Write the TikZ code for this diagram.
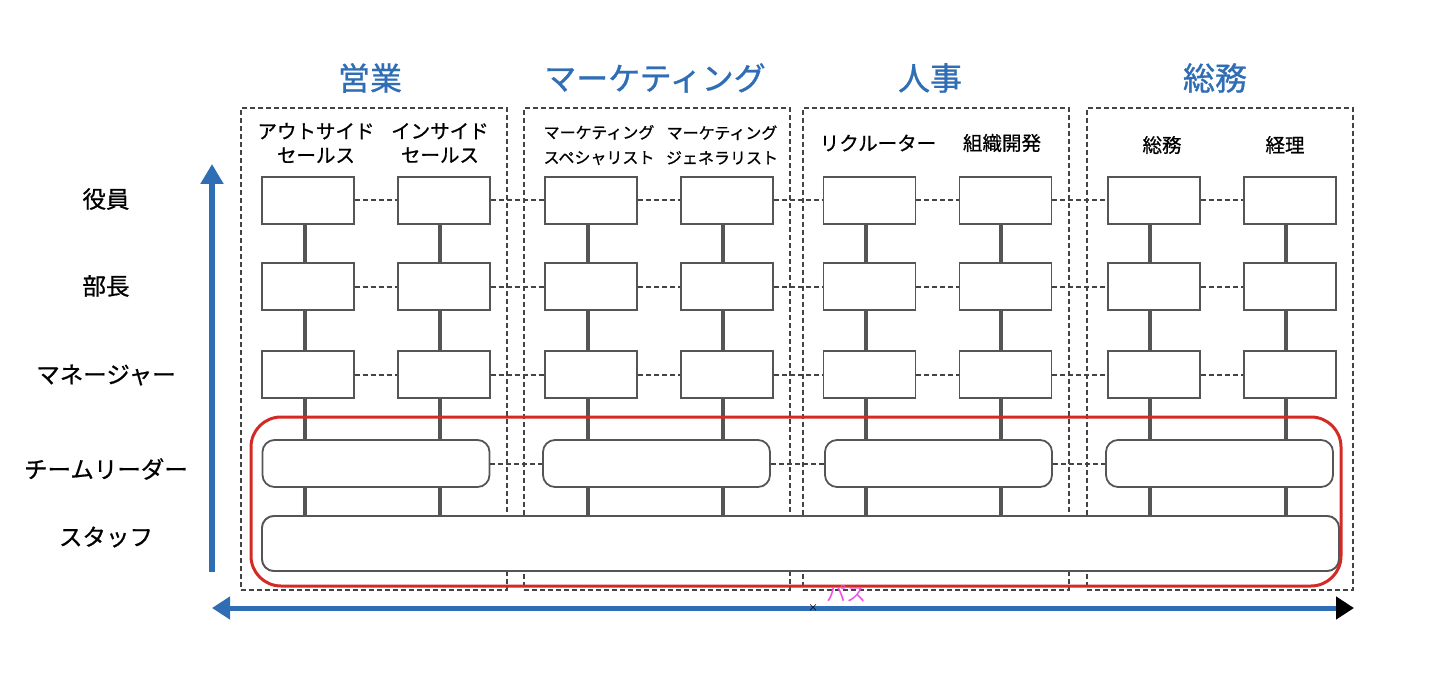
\documentclass[tikz,border=0pt]{standalone}
\usepackage{fontspec}
\setmainfont{Noto Sans CJK JP}
\newfontfamily\embf[FakeBold=0.7]{Noto Sans CJK JP}
\newfontfamily\embt[FakeBold=0.9]{Noto Sans CJK JP}
\usetikzlibrary{arrows.meta}
\definecolor{ttl}{HTML}{2F6DB5}
\definecolor{bx}{HTML}{555555}
\definecolor{dsh}{HTML}{444444}
\definecolor{selred}{HTML}{D42A26}
\definecolor{pasu}{HTML}{F04FE6}
\tikzset{
  x=1pt,y=-1pt,
  rolebox/.style={draw=bx,line width=1.8pt,fill=white,minimum width=92pt,minimum height=47pt,inner sep=0pt},
  tlbox/.style={draw=bx,line width=1.8pt,fill=white,rounded corners=12pt,minimum width=227pt,minimum height=47pt,inner sep=0pt},
  staffbox/.style={draw=bx,line width=1.8pt,fill=white,rounded corners=12pt,minimum width=1077pt,minimum height=55pt,inner sep=0pt},
  grpbox/.style={draw=dsh,line width=2pt,dash pattern=on 5pt off 3pt,minimum width=266pt,minimum height=482pt,inner sep=0pt},
  dline/.style={draw=dsh,line width=2pt,dash pattern=on 5pt off 3pt},
  vline/.style={draw=bx,line width=4pt},
  title/.style={text=ttl,font=\embt\fontsize{32}{38}\selectfont},
  hdr/.style={font=\embf\fontsize{19.5}{24}\selectfont,align=center},
  hdrs/.style={font=\embf\fontsize{16}{25}\selectfont,align=center},
  rowlbl/.style={font=\embf\fontsize{23.5}{28}\selectfont}
}
\begin{document}
\begin{tikzpicture}
\useasboundingbox (0,0) rectangle (1440,679);
% groups
\node[grpbox] (g1) at (374,349) {};
\node[grpbox] (g2) at (657,349) {};
\node[grpbox] (g3) at (935.5,349) {};
\node[grpbox] (g4) at (1220,349) {};
% titles
\node[title] (t1) at (370,78) {営業};
\node[title] (t2) at (655,78) {マーケティング};
\node[title] (t3) at (930,78) {人事};
\node[title] (t4) at (1215,78) {総務};
% headers
\node[hdr] (h1) at (316,143) {アウトサイド\\セールス};
\node[hdr] (h2) at (440,143) {インサイド\\セールス};
\node[hdrs] (h3) at (599,145) {マーケティング\\スペシャリスト};
\node[hdrs] (h4) at (722,145) {マーケティング\\ジェネラリスト};
\node[hdr] (h5) at (878,143) {リクルーター};
\node[hdr] (h6) at (1002,143) {組織開発};
\node[hdr] (h7) at (1162,145) {総務};
\node[hdr] (h8) at (1285,145) {経理};
% row labels
\node[rowlbl] (l1) at (106,199) {役員};
\node[rowlbl] (l2) at (106,286) {部長};
\node[rowlbl] (l3) at (106,375) {マネージャー};
\node[rowlbl] (l4) at (106,469) {チームリーダー};
\node[rowlbl] (l5) at (106,537) {スタッフ};
% staff box
\node[staffbox] (staff) at (800.5,543.5) {};
% vertical lines behind
\foreach \c/\x in {1/305,2/440,3/588,4/723,5/866,6/1001,7/1150,8/1286}{
  \coordinate (top\c) at (\x,224);
  \draw[vline] (top\c) -- (top\c |- staff.north);
}
% team leader boxes
\node[tlbox] (tl1) at (376,463.5) {};
\node[tlbox] (tl2) at (656.5,463.5) {};
\node[tlbox] (tl3) at (938.5,463.5) {};
\node[tlbox] (tl4) at (1219.5,463.5) {};
\draw[dline] (tl1.east) -- (tl2.west);
\draw[dline] (tl2.east) -- (tl3.west);
\draw[dline] (tl3.east) -- (tl4.west);
% role boxes
\foreach \r/\y in {1/200.5,2/286.5,3/374.5}{
  \foreach \c/\x in {1/308,2/444,3/591,4/727,5/869.5,6/1005.5,7/1154,8/1290}{
    \node[rolebox] (r\r c\c) at (\x,\y) {};
  }
  \foreach \a/\b in {1/2,2/3,3/4,4/5,5/6,6/7,7/8}{
    \draw[dline] (r\r c\a.east) -- (r\r c\b.west);
  }
}
% staff box redrawn on top of line ends
\node[staffbox] (staff2) at (800.5,543.5) {};
% selection rectangle
\node[draw=selred,line width=3pt,rounded corners=30pt,minimum width=1090pt,minimum height=169pt,inner sep=0pt] (sel) at (796,501.5) {};
% axes
\coordinate (va0) at (212,572);
\coordinate (va1) at (212,164);
\draw[ttl,line width=6pt,-{Triangle[length=20pt,width=22pt]}] (va0) -- (va1);
\coordinate (ha0) at (212,608);
\coordinate (ha1) at (1354,608);
\draw[ttl,line width=5pt,{Triangle[length=18pt,width=22pt,color=ttl]}-{Triangle[length=18pt,width=22pt,color=black]}] (ha0) -- (ha1);
\node[text=pasu,font=\fontsize{20}{22}\selectfont] (pasu) at (846,594) {パス};
\node[font=\fontsize{10}{10}\selectfont,inner sep=0pt] (mark) at (813,608) {×};
\end{tikzpicture}
\end{document}
